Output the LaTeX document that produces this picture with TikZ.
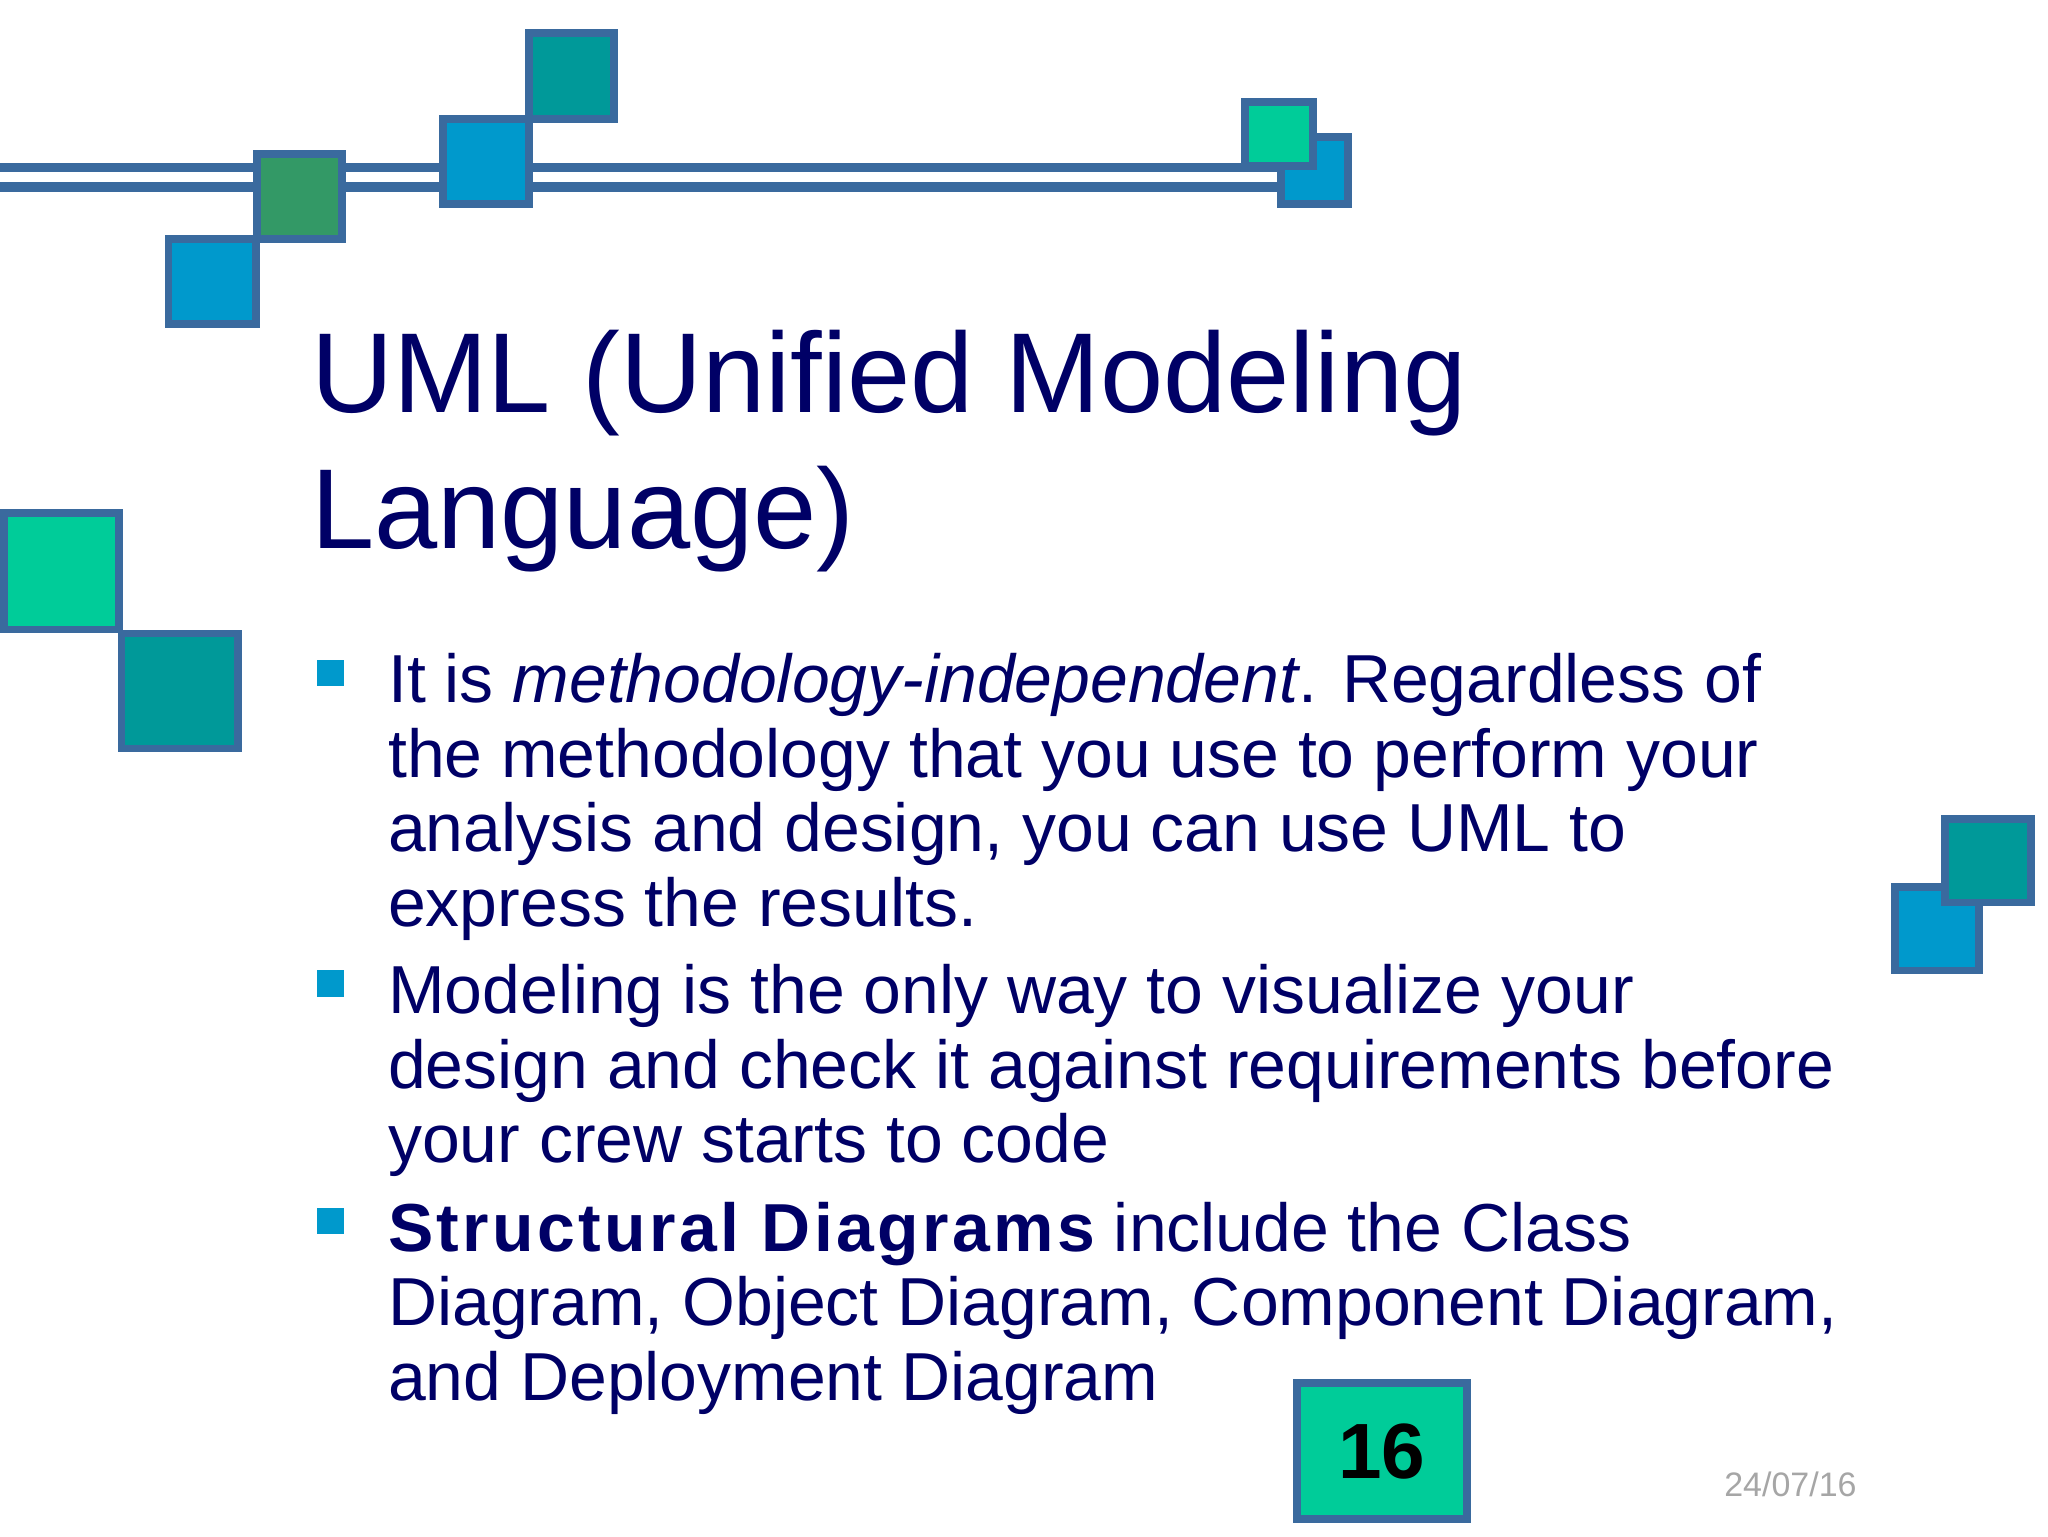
\documentclass[tikz,border=0pt]{standalone}
\usepackage{fontspec}
\setmainfont{Liberation Sans}
\definecolor{edge}{HTML}{3A6A9E}
\definecolor{sqblue}{HTML}{0099CC}
\definecolor{sqgreen}{HTML}{339966}
\definecolor{sqteal}{HTML}{009999}
\definecolor{sqmint}{HTML}{00CC99}
\definecolor{navy}{HTML}{000066}
\tikzset{sq/.style={draw=edge,line width=6pt},
  body/.style={anchor=base west,inner sep=0pt,align=left,text=navy,font=\fontsize{52}{57}\selectfont},
  bul/.style={fill=sqblue,minimum size=20pt,inner sep=0pt}}
\begin{document}
\begin{tikzpicture}[x=1pt,y=-1pt]
\useasboundingbox[fill=white] (0,0) rectangle (1568,1176);
% double line
\fill[edge] (0,125) rectangle (985,147);
\fill[white] (0,132) rectangle (985,139);
% squares
\draw[sq,fill=sqblue] (129,183) rectangle (196,248);
\draw[sq,fill=sqgreen] (197,118) rectangle (262,183);
\draw[sq,fill=sqblue] (339,91) rectangle (405,156);
\draw[sq,fill=sqteal] (405,25) rectangle (470,91);
\draw[sq,fill=sqblue] (981,105) rectangle (1032,156);
\draw[sq,fill=sqmint] (953,78) rectangle (1005,127);
\draw[sq,fill=sqmint] (3,393) rectangle (91,482);
\draw[sq,fill=sqteal] (93,485) rectangle (182,573);
\draw[sq,fill=sqblue] (1451,679) rectangle (1515,743);
\draw[sq,fill=sqteal] (1489,627) rectangle (1555,691);
% title
\node[anchor=base west,inner sep=0pt,align=left,text=navy,font=\fontsize{87}{104}\selectfont] (title) at (238,420) {UML (Unified Modeling\\Language)};
% bullets
\node[bul] (b1) at (253,515) {};
\node[bul] (b2) at (253,753) {};
\node[bul] (b3) at (253,935) {};
\node[body] (t1) at (297,709) {It is \textit{methodology-independent}. Regardless of\\the methodology that you use to perform your\\analysis and design, you can use UML to\\express the results.};
\node[body] (t2) at (297,890) {Modeling is the only way to visualize your\\design and check it against requirements before\\your crew starts to code};
\node[body] (t3) at (297,1072) {{\bfseries\addfontfeature{LetterSpace=5}Structural Diagrams} include the Class\\Diagram, Object Diagram, Component Diagram,\\and Deployment Diagram};
% page number
\draw[sq,fill=sqmint] (993,1059) rectangle (1123,1163);
\node[font=\fontsize{60}{60}\selectfont\bfseries] (pg) at (1058,1111) {16};
\node[anchor=base west,inner sep=0pt,text=gray!70,font=\fontsize{26}{26}\selectfont] (date) at (1320,1146) {24/07/16};
\end{tikzpicture}
\end{document}
